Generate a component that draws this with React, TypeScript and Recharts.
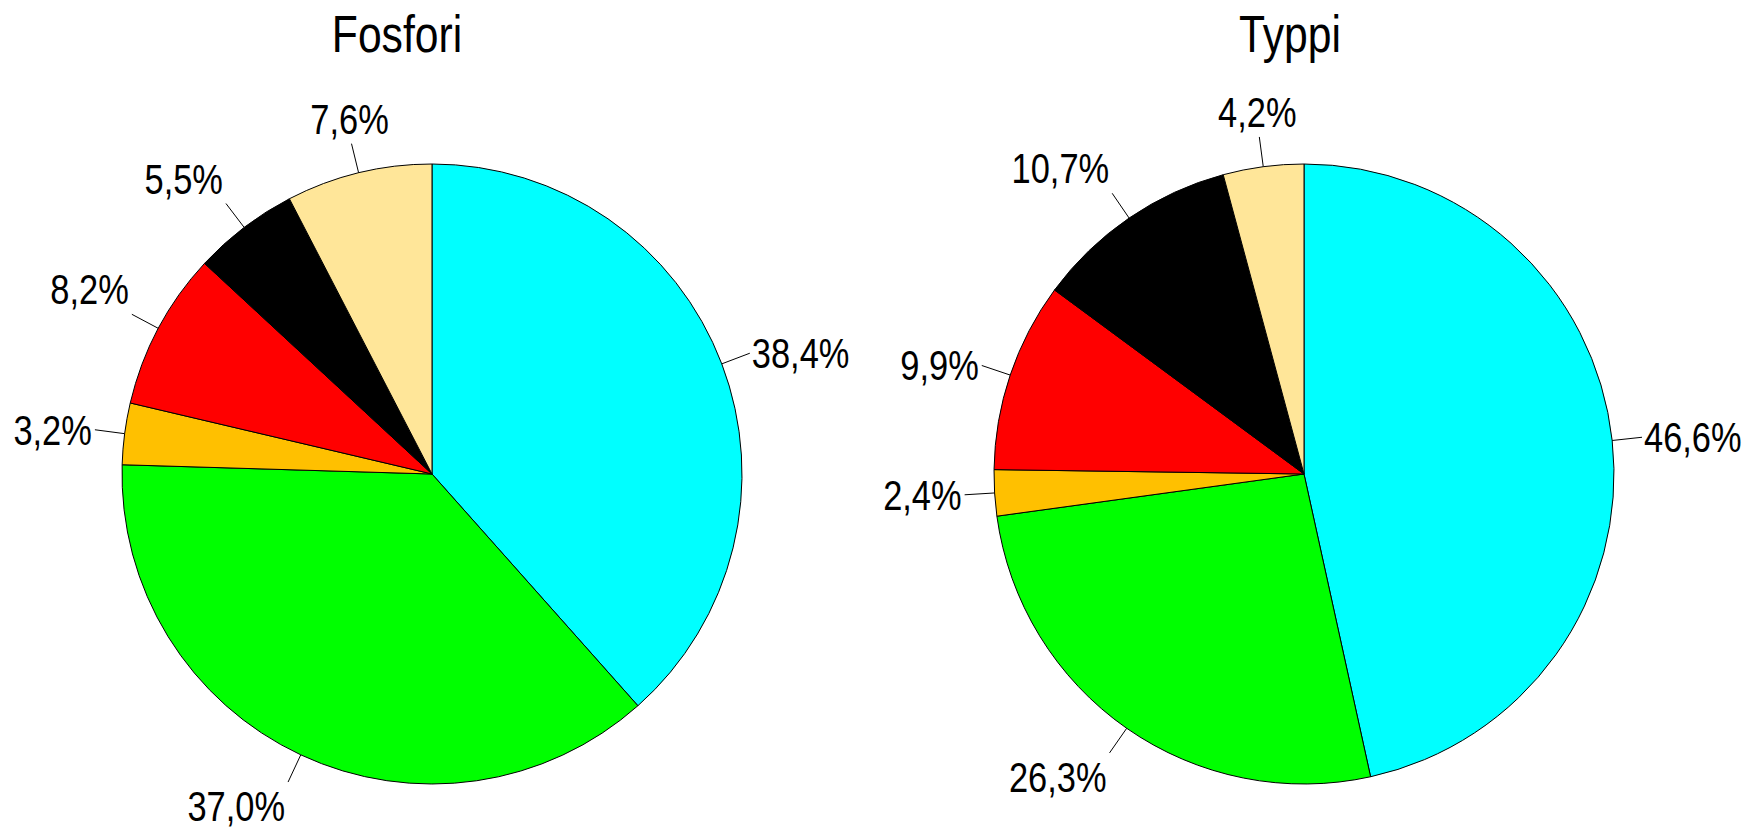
import { Cell, Pie, PieChart } from "recharts";

const categories = ["Luokka A", "Luokka B", "Luokka C", "Luokka D", "Luokka E", "Luokka F"];
const fosforiValues = [38.4, 37.0, 3.2, 8.2, 5.5, 7.6];
const typpiValues = [46.6, 26.3, 2.4, 9.9, 10.7, 4.2];
const sliceColors = ["#00ffff", "#00ff00", "#ffc000", "#ff0000", "#000000", "#ffe699"];

// Arial Narrow look: Liberation Sans squeezed horizontally
const FONT = '"Liberation Sans", Arial, sans-serif';
const NARROW = 0.82;
const RAD = Math.PI / 180;

function buildData(values: number[]) {
  return categories.map((name, i) => ({ name, value: values[i] }));
}

function formatPercent(value: number) {
  return value.toFixed(1).replace(".", ",") + "%";
}

function renderLabel(props: any) {
  const { cx, cy, midAngle, outerRadius, value } = props;
  const dx = Math.cos(-midAngle * RAD);
  const dy = Math.sin(-midAngle * RAD);
  const sx = cx + outerRadius * dx;
  const sy = cy + outerRadius * dy;
  const ex = cx + (outerRadius + 30) * dx;
  const ey = cy + (outerRadius + 30) * dy;

  let anchor: "start" | "middle" | "end" = "middle";
  let tx = ex - 2;
  if (Math.abs(dx) >= 0.31) {
    anchor = dx > 0 ? "start" : "end";
    tx = dx > 0 ? ex + 2 : ex - 3;
  }
  let ty = ey + 15;
  if (Math.abs(dy) >= 0.42) {
    ty = dy > 0 ? ey + 39 : ey - 10;
  }

  return (
    <g>
      <line x1={sx} y1={sy} x2={ex} y2={ey} stroke="#000" strokeWidth={1} />
      <text
        x={0}
        y={0}
        transform={`translate(${tx},${ty}) scale(${NARROW},1)`}
        textAnchor={anchor}
        fontFamily={FONT}
        fontSize={42}
        fill="#000"
      >
        {formatPercent(value)}
      </text>
    </g>
  );
}

function Title({ text, x }: { text: string; x: number }) {
  return (
    <div
      style={{
        position: "absolute",
        left: x - 150,
        width: 300,
        top: 4,
        textAlign: "center",
        fontFamily: FONT,
        fontSize: 52,
        lineHeight: "60px",
        color: "#000",
        transform: `scaleX(${NARROW})`,
      }}
    >
      {text}
    </div>
  );
}

export default function App() {
  const fosfori = buildData(fosforiValues);
  const typpi = buildData(typpiValues);
  return (
    <div style={{ position: "absolute", left: 0, top: 0, width: 1749, height: 830, background: "#fff", overflow: "hidden" }}>
      <PieChart width={1749} height={830} margin={{ top: 0, right: 0, bottom: 0, left: 0 }}>
        <Pie
          data={fosfori}
          dataKey="value"
          nameKey="name"
          cx={432}
          cy={474}
          outerRadius={310}
          startAngle={90}
          endAngle={-270}
          stroke="#000"
          strokeWidth={1}
          label={renderLabel}
          labelLine={false}
          isAnimationActive={false}
        >
          {fosfori.map((entry, index) => (
            <Cell key={entry.name} fill={sliceColors[index]} />
          ))}
        </Pie>
        <Pie
          data={typpi}
          dataKey="value"
          nameKey="name"
          cx={1304}
          cy={474}
          outerRadius={310}
          startAngle={90}
          endAngle={-270}
          stroke="#000"
          strokeWidth={1}
          label={renderLabel}
          labelLine={false}
          isAnimationActive={false}
        >
          {typpi.map((entry, index) => (
            <Cell key={entry.name} fill={sliceColors[index]} />
          ))}
        </Pie>
      </PieChart>
      <Title text="Fosfori" x={397} />
      <Title text="Typpi" x={1290} />
    </div>
  );
}
